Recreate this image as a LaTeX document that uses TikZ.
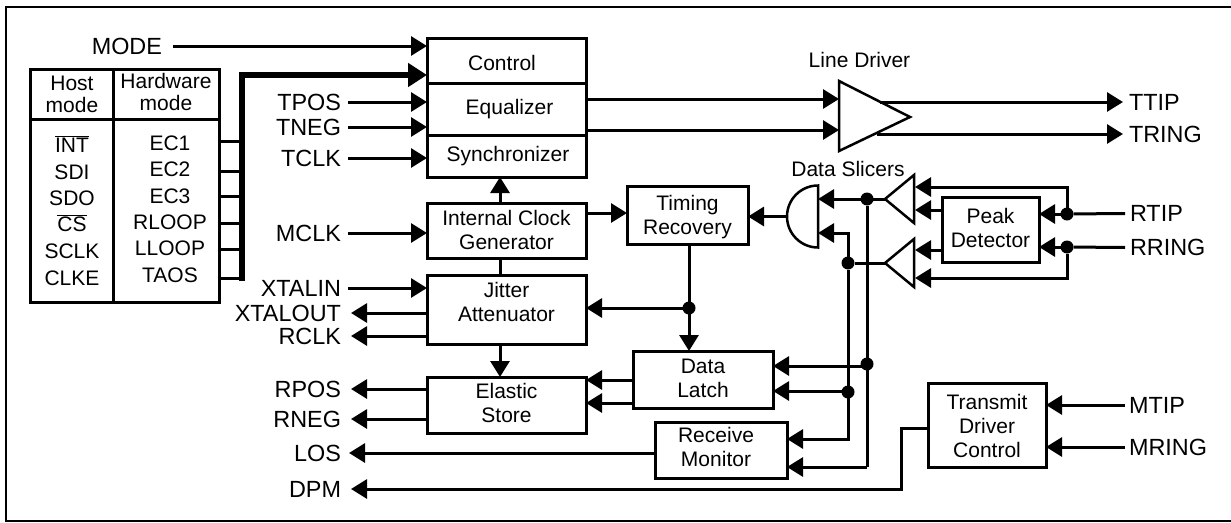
\documentclass[tikz,border=0pt]{standalone}
\usepackage{fontspec}
\setmainfont{Liberation Sans}
\usetikzlibrary{arrows.meta}
\tikzset{
  x=1pt,y=-1pt,
  wire/.style={line width=3pt},
  arr/.style={line width=3pt,-{Triangle[length=16pt,width=19pt]}},
  bigarr/.style={line width=6pt,-{Triangle[length=19pt,width=23pt]}},
  block/.style={draw,line width=3pt,inner sep=0pt,outer sep=0pt,align=center,
    font=\fontsize{21}{24}\selectfont,text depth=0pt},
  lbl/.style={inner ysep=0pt,outer sep=0pt,font=\fontsize{23.4}{24}\selectfont,text height=16.5pt,text depth=0pt},
  cell/.style={inner sep=0pt,outer sep=0pt,font=\fontsize{21}{22}\selectfont,text height=15pt,text depth=0pt},
  dot/.style={circle,fill=black,inner sep=0pt,outer sep=0pt,minimum size=13pt},
  shapeline/.style={line width=2.5pt,line join=miter},
  captext/.style={inner sep=0pt,outer sep=0pt,font=\fontsize{21}{24}\selectfont,text height=15pt,text depth=0pt}
}
\begin{document}
\begin{tikzpicture}
\useasboundingbox (0,0) rectangle (1231,522);
\draw[line width=2pt] (1231,6.7) -- (6,6.7) -- (6,521);
\draw[line width=1.2pt] (5,521) -- (1231,521);
% table
\node[block,minimum width=83pt,minimum height=50pt] (hosth) at (71.5,94) {};
\node[block,minimum width=106pt,minimum height=50pt] (hwh) at (166,94) {};
\node[block,minimum width=83pt,minimum height=183pt] (hostb) at (71.5,210.5) {};
\node[block,minimum width=106pt,minimum height=183pt] (hwb) at (166,210.5) {};
\node[cell] (t1) at (72,83) {Host};
\node[cell] (t2) at (72,105) {mode};
\node[cell] (t3) at (166,81) {Hardware};
\node[cell] (t4) at (166,103) {mode};
\node[cell] (h1) at (72,145) {$\overline{\mbox{INT}}$};
\node[cell] (h2) at (72,172) {SDI};
\node[cell] (h3) at (72,198) {SDO};
\node[cell] (h4) at (72,224) {$\overline{\mbox{CS}}$};
\node[cell] (h5) at (72,251) {SCLK};
\node[cell] (h6) at (72,278) {CLKE};
\node[cell] (e1) at (170,143) {EC1};
\node[cell] (e2) at (170,169) {EC2};
\node[cell] (e3) at (170,196) {EC3};
\node[cell] (e4) at (170,222) {RLOOP};
\node[cell] (e5) at (170,248) {LLOOP};
\node[cell] (e6) at (170,275) {TAOS};
% main blocks
\node[block,minimum width=159pt,minimum height=45pt,text height=20pt] (ctrl) at (506.5,60.5) {\kern-9pt Control};
\node[block,minimum width=159pt,minimum height=52pt,text height=11pt] (eq) at (506.5,109) {\kern6pt Equalizer};
\node[block,minimum width=159pt,minimum height=42pt,text height=11pt] (sync) at (506.5,156) {\kern3pt Synchronizer};
\node[block,minimum width=159pt,minimum height=55pt,text height=37pt] (icg) at (506.5,230.5) {Internal Clock\\Generator};
\node[block,minimum width=159pt,minimum height=69pt,text height=23pt] (jit) at (506.5,309.5) {Jitter\\Attenuator};
\node[block,minimum width=159pt,minimum height=56pt,text height=35pt] (els) at (506.5,405) {Elastic\\Store};
\node[block,minimum width=121pt,minimum height=58pt,text height=38pt] (tim) at (687.5,215) {Timing\\Recovery};
\node[block,minimum width=140pt,minimum height=57pt,text height=35pt] (lat) at (703,379.5) {Data\\Latch};
\node[block,minimum width=132pt,minimum height=56pt,text height=32pt] (rcv) at (721,450) {Receive\kern10pt\\Monitor\kern10pt};
\node[block,minimum width=97pt,minimum height=65pt,text height=36pt] (peak) at (990.5,229.5) {Peak\\Detector};
\node[block,minimum width=118pt,minimum height=84pt,text height=65pt] (trn) at (987,425) {Transmit\\Driver\\Control};
% captions
\node[captext] (ld) at (859.5,60) {Line Driver};
\node[captext] (ds) at (848,169) {Data Slicers};
% left labels
\node[lbl,anchor=east,inner xsep=11pt] (mode) at (173,46) {MODE};
\node[lbl,anchor=east,inner xsep=7pt] (tpos) at (348,102) {TPOS};
\node[lbl,anchor=east,inner xsep=7pt] (tneg) at (348,127) {TNEG};
\node[lbl,anchor=east,inner xsep=7pt] (tclk) at (348,158) {TCLK};
\node[lbl,anchor=east,inner xsep=7pt] (mclk) at (348,233) {MCLK};
\node[lbl,anchor=east,inner xsep=7pt] (xin) at (348,288) {XTALIN};
\node[lbl,anchor=east,inner xsep=10pt] (xout) at (351,313) {XTALOUT};
\node[lbl,anchor=east,inner xsep=10pt] (rclk) at (351,336) {RCLK};
\node[lbl,anchor=east,inner xsep=10pt] (rpos) at (351,389) {RPOS};
\node[lbl,anchor=east,inner xsep=10pt] (rneg) at (351,419) {RNEG};
\node[lbl,anchor=east,inner xsep=8pt] (los) at (349,453) {LOS};
\node[lbl,anchor=east,inner xsep=10pt] (dpm) at (351,489) {DPM};
% right labels
\node[lbl,anchor=west,inner xsep=6pt] (ttip) at (1123,102) {TTIP};
\node[lbl,anchor=west,inner xsep=6pt] (tring) at (1123,134) {TRING};
\node[lbl,anchor=west,inner xsep=5pt] (rtip) at (1125,213.5) {RTIP};
\node[lbl,anchor=west,inner xsep=5pt] (rring) at (1125,247.5) {RRING};
\node[lbl,anchor=west,inner xsep=4pt] (mtip) at (1125,405) {MTIP};
\node[lbl,anchor=west,inner xsep=4pt] (mring) at (1125,447) {MRING};
% shapes
\coordinate (gl) at (818,216.5);
\coordinate (gr) at (787,216.5);
\draw[shapeline] (818,185.5) arc[start angle=270,end angle=90,x radius=31,y radius=31] -- cycle;
\coordinate (ldi1) at (839,99);
\coordinate (ldi2) at (839,130);
\coordinate (ldo1) at (880,102);
\coordinate (ldo2) at (877,134);
\draw[shapeline] (839,81) -- (910,117) -- (839,151) -- cycle;
\coordinate (s1a) at (885,199);
\coordinate (s2a) at (885,263);
\draw[shapeline] (s1a) -- (914,175) -- (914,223) -- cycle;
\draw[shapeline] (s2a) -- (914,239) -- (914,287) -- cycle;
\coordinate (s1b) at (915,199);
\coordinate (s2b) at (915,263);
% dots
\node[dot] (d1) at (867,199) {};
\node[dot] (d2) at (848,263) {};
\node[dot] (d3) at (1067,214) {};
\node[dot] (d4) at (1067,247) {};
\node[dot] (d5) at (689,308) {};
\node[dot] (d6) at (867,364) {};
\node[dot] (d7) at (848,392) {};
% table stubs and bus
\coordinate (busb) at (242,278);
\foreach \n/\y in {1/141,2/171,3/196,4/223,5/249,6/278}
  \draw[wire] (hwb.east |- 0,\y) -- (busb |- 0,\y);
\draw[bigarr] (242,281) |- (ctrl.west |- 0,75);
% inputs to main
\draw[arr] (mode.east) -- (ctrl.west |- mode.east);
\draw[arr] (tpos.east) -- (eq.west |- tpos.east);
\draw[arr] (tneg.east) -- (eq.west |- tneg.east);
\draw[arr] (tclk.east) -- (sync.west |- tclk.east);
\draw[arr] (mclk.east) -- (icg.west |- mclk.east);
\draw[arr] (xin.east) -- (jit.west |- xin.east);
\draw[arr] (icg.north -| 500,0) -- (sync.south -| 500,0);
\draw[wire] (icg.south -| 500,0) -- (jit.north -| 500,0);
\draw[arr] (jit.south -| 500,0) -- (els.north -| 500,0);
% outputs
\draw[arr] (jit.west |- xout.east) -- (xout.east);
\draw[arr] (jit.west |- rclk.east) -- (rclk.east);
\draw[arr] (els.west |- rpos.east) -- (rpos.east);
\draw[arr] (els.west |- rneg.east) -- (rneg.east);
\draw[arr] (rcv.west |- los.east) -- (los.east);
\draw[arr] (trn.west |- 0,428) -- (901,428) -- (901,489) -- (dpm.east);
% line driver
\draw[arr] (eq.east |- ldi1) -- (ldi1);
\draw[arr] (eq.east |- ldi2) -- (ldi2);
\draw[arr] (ldo1) -- (ttip.west);
\draw[arr] (ldo2) -- (tring.west);
% timing
\draw[arr] (icg.east |- 0,213) -- (tim.west |- 0,213);
\draw[arr] (gr) -- (tim.east |- gr);
\draw[arr] (tim.south -| d5) -- (lat.north -| d5);
\draw[arr] (d5) -- (jit.east |- d5);
% latch
\draw[arr] (lat.west |- 0,380) -- (els.east |- 0,380);
\draw[arr] (lat.west |- 0,403) -- (els.east |- 0,403);
\draw[arr] (d6 |- 0,366) -- (lat.east |- 0,366);
\draw[arr] (d7 |- 0,391) -- (lat.east |- 0,391);
% slicers
\draw[arr] (s1a) -- (gl |- s1a);
\draw[arr] (s2a) -- (d2) |- (gl |- 0,233);
\draw[wire] (d1) -- (d1 |- 0,467);
\draw[arr] (d2) |- (rcv.east |- 0,439);
\draw[arr] (d1 |- 0,467) -- (rcv.east |- 0,467);
% peak
\draw[wire] (rtip.west) -- (d3);
\draw[wire] (rring.west) -- (d4);
\draw[arr] (d3) -- (peak.east |- d3);
\draw[arr] (d4) -- (peak.east |- d4);
\draw[arr] (d3) |- (s1b |- 0,187);
\draw[arr] (d4) |- (s2b |- 0,278);
\draw[arr] (peak.west |- 0,210) -- (s1b |- 0,210);
\draw[arr] (peak.west |- 0,250) -- (s2b |- 0,250);
% transmit
\draw[arr] (mtip.west) -- (trn.east |- mtip.west);
\draw[arr] (mring.west) -- (trn.east |- mring.west);
\end{tikzpicture}
\end{document}
